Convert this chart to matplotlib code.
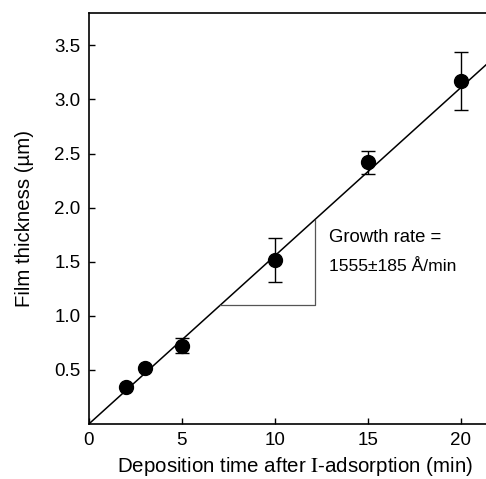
import matplotlib.pyplot as plt
import numpy as np

plt.rcParams['font.family'] = ['Liberation Sans', 'DejaVu Sans']
plt.rcParams['mathtext.fontset'] = 'stix'

times = [2, 3, 5, 10, 15, 20]
thickness = [0.34, 0.52, 0.72, 1.52, 2.42, 3.17]
err_low = [0.0, 0.0, 0.06, 0.21, 0.11, 0.27]
err_high = [0.0, 0.0, 0.07, 0.20, 0.10, 0.27]
growth_rate = 0.1555  # um/min

fig = plt.figure(figsize=(4.86, 4.79), dpi=100)
ax = fig.add_axes([0.183, 0.115, 0.817, 0.858])

x_fit = np.array([0, 22])
ax.plot(x_fit, growth_rate * x_fit, color='black', linewidth=1.1)

ax.errorbar(times, thickness, yerr=[err_low, err_high], fmt='o', color='black',
            markersize=10, capsize=5, elinewidth=1, capthick=1)

# slope triangle
x1, x2 = 1.10 / growth_rate, 12.15
ax.plot([x1, x2, x2], [1.10, 1.10, growth_rate * x2], color='#555555', linewidth=0.9)
ax.text(12.9, 1.72, 'Growth rate =', fontsize=13.3, va='center')
ax.text(12.9, 1.46, '1555±185 Å/min', fontsize=12.6, va='center')

ax.set_xlim(0, 21.35)
ax.set_ylim(0, 3.8)
ax.set_xticks([0, 5, 10, 15, 20])
ax.set_yticks([0.5, 1.0, 1.5, 2.0, 2.5, 3.0, 3.5])
ax.set_yticklabels(['0.5', '1.0', '1.5', '2.0', '2.5', '3.0', '3.5'])
ax.tick_params(direction='in', length=4, width=1, labelsize=13.5, pad=6)
ax.spines['right'].set_visible(False)
for s in ['left', 'bottom', 'top']:
    ax.spines[s].set_linewidth(1.2)

ax.set_xlabel(r'Deposition time after $\mathrm{I}$-adsorption (min)', fontsize=14.8)
ax.xaxis.set_label_coords(0.52, -0.075)
ax.set_ylabel('Film thickness (µm)', fontsize=14.7, labelpad=15)

fig.savefig('out.png', dpi=100)
